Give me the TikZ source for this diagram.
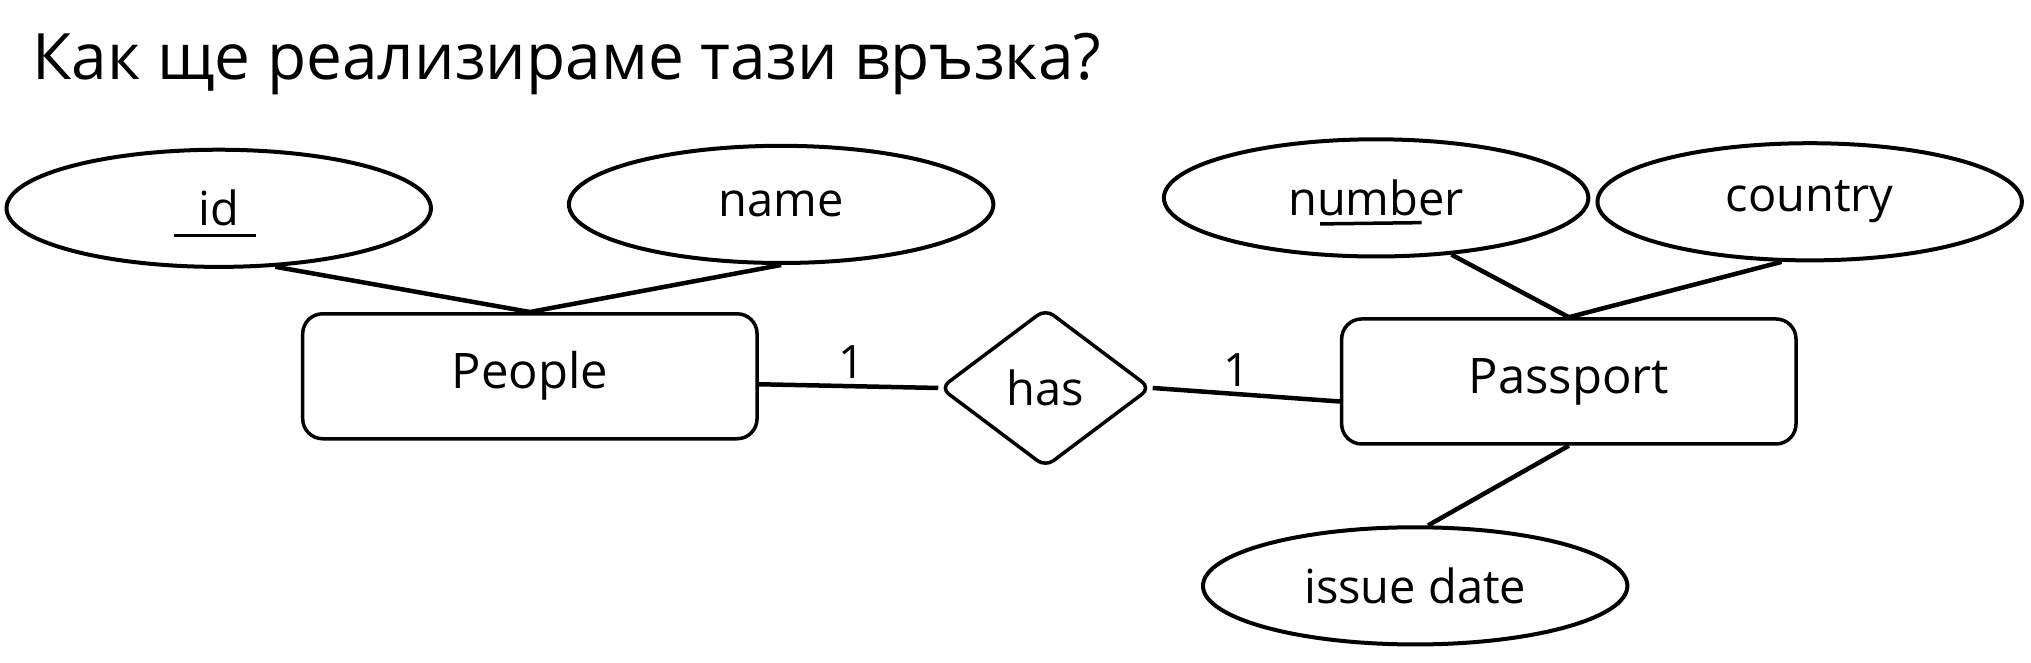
\documentclass[tikz,border=0pt]{standalone}
\usepackage{fontspec}
\setmainfont{Open Sans}
\usetikzlibrary{shapes.geometric,calc}
\tikzset{
  attr/.style={draw, ellipse, line width=4pt, minimum width=326*1.302pt, minimum height=90*1.302pt, inner sep=0pt, font=\fontsize{47}{50}\selectfont},
  entity/.style={draw, rectangle, rounded corners=20pt, line width=3.5pt, minimum width=349*1.302pt, minimum height=96*1.302pt, inner sep=0pt, font=\fontsize{49}{52}\selectfont},
  rel/.style={draw, diamond, rounded corners=10pt, line width=3.5pt, minimum width=162*1.302pt, minimum height=122*1.302pt, inner sep=0pt, font=\fontsize{47}{50}\selectfont},
  link/.style={line width=4.5pt},
  ulink/.style={line width=3.5pt},
  card/.style={font=\fontsize{46}{50}\selectfont},
  ttl/.style={font=\fontsize{64}{68}\selectfont, anchor=base west, inner sep=0pt}
}
\begin{document}
\begin{tikzpicture}[x=1.302pt, y=-1.302pt]
\useasboundingbox (0,0) rectangle (1560,509.2);
\node[ttl] (title) at (25,61) {Как ще реализираме тази връзка?};

\node[attr] (id) at (168,160) {id};
\node[attr] (name) at (600,157) {name};
\node[attr] (number) at (1057,152) {number};
\node[attr] (country) at (1390,155) {country};
\node[attr] (issue) at (1087,450) {issue date};

\node[entity] (people) at (407,289) {People};
\node[entity] (passport) at (1205,293) {Passport};
\node[rel] (has) at (803,298) {has};

\draw[ulink] ($(id.center)+(-34,21)$) -- ++(63,0);
\draw[ulink] ($(number.center)+(-43,20)$) -- ++(78,-1);

\draw[link] (id.-46) -- (people.north);
\draw[link] (name.south) -- (people.north);
\draw[link] (number.-37) -- (passport.north);
\draw[link] (country.-115) -- (passport.north);
\draw[link] (passport.south) -- (issue.78);

\draw[link] (people.-2) -- node[card, above=2pt, pos=0.52] (c1) {1} (has.west);
\draw[link] (has.east) -- node[card, above=2pt, pos=0.45] (c2) {1} (passport.-175.4);
\end{tikzpicture}
\end{document}
